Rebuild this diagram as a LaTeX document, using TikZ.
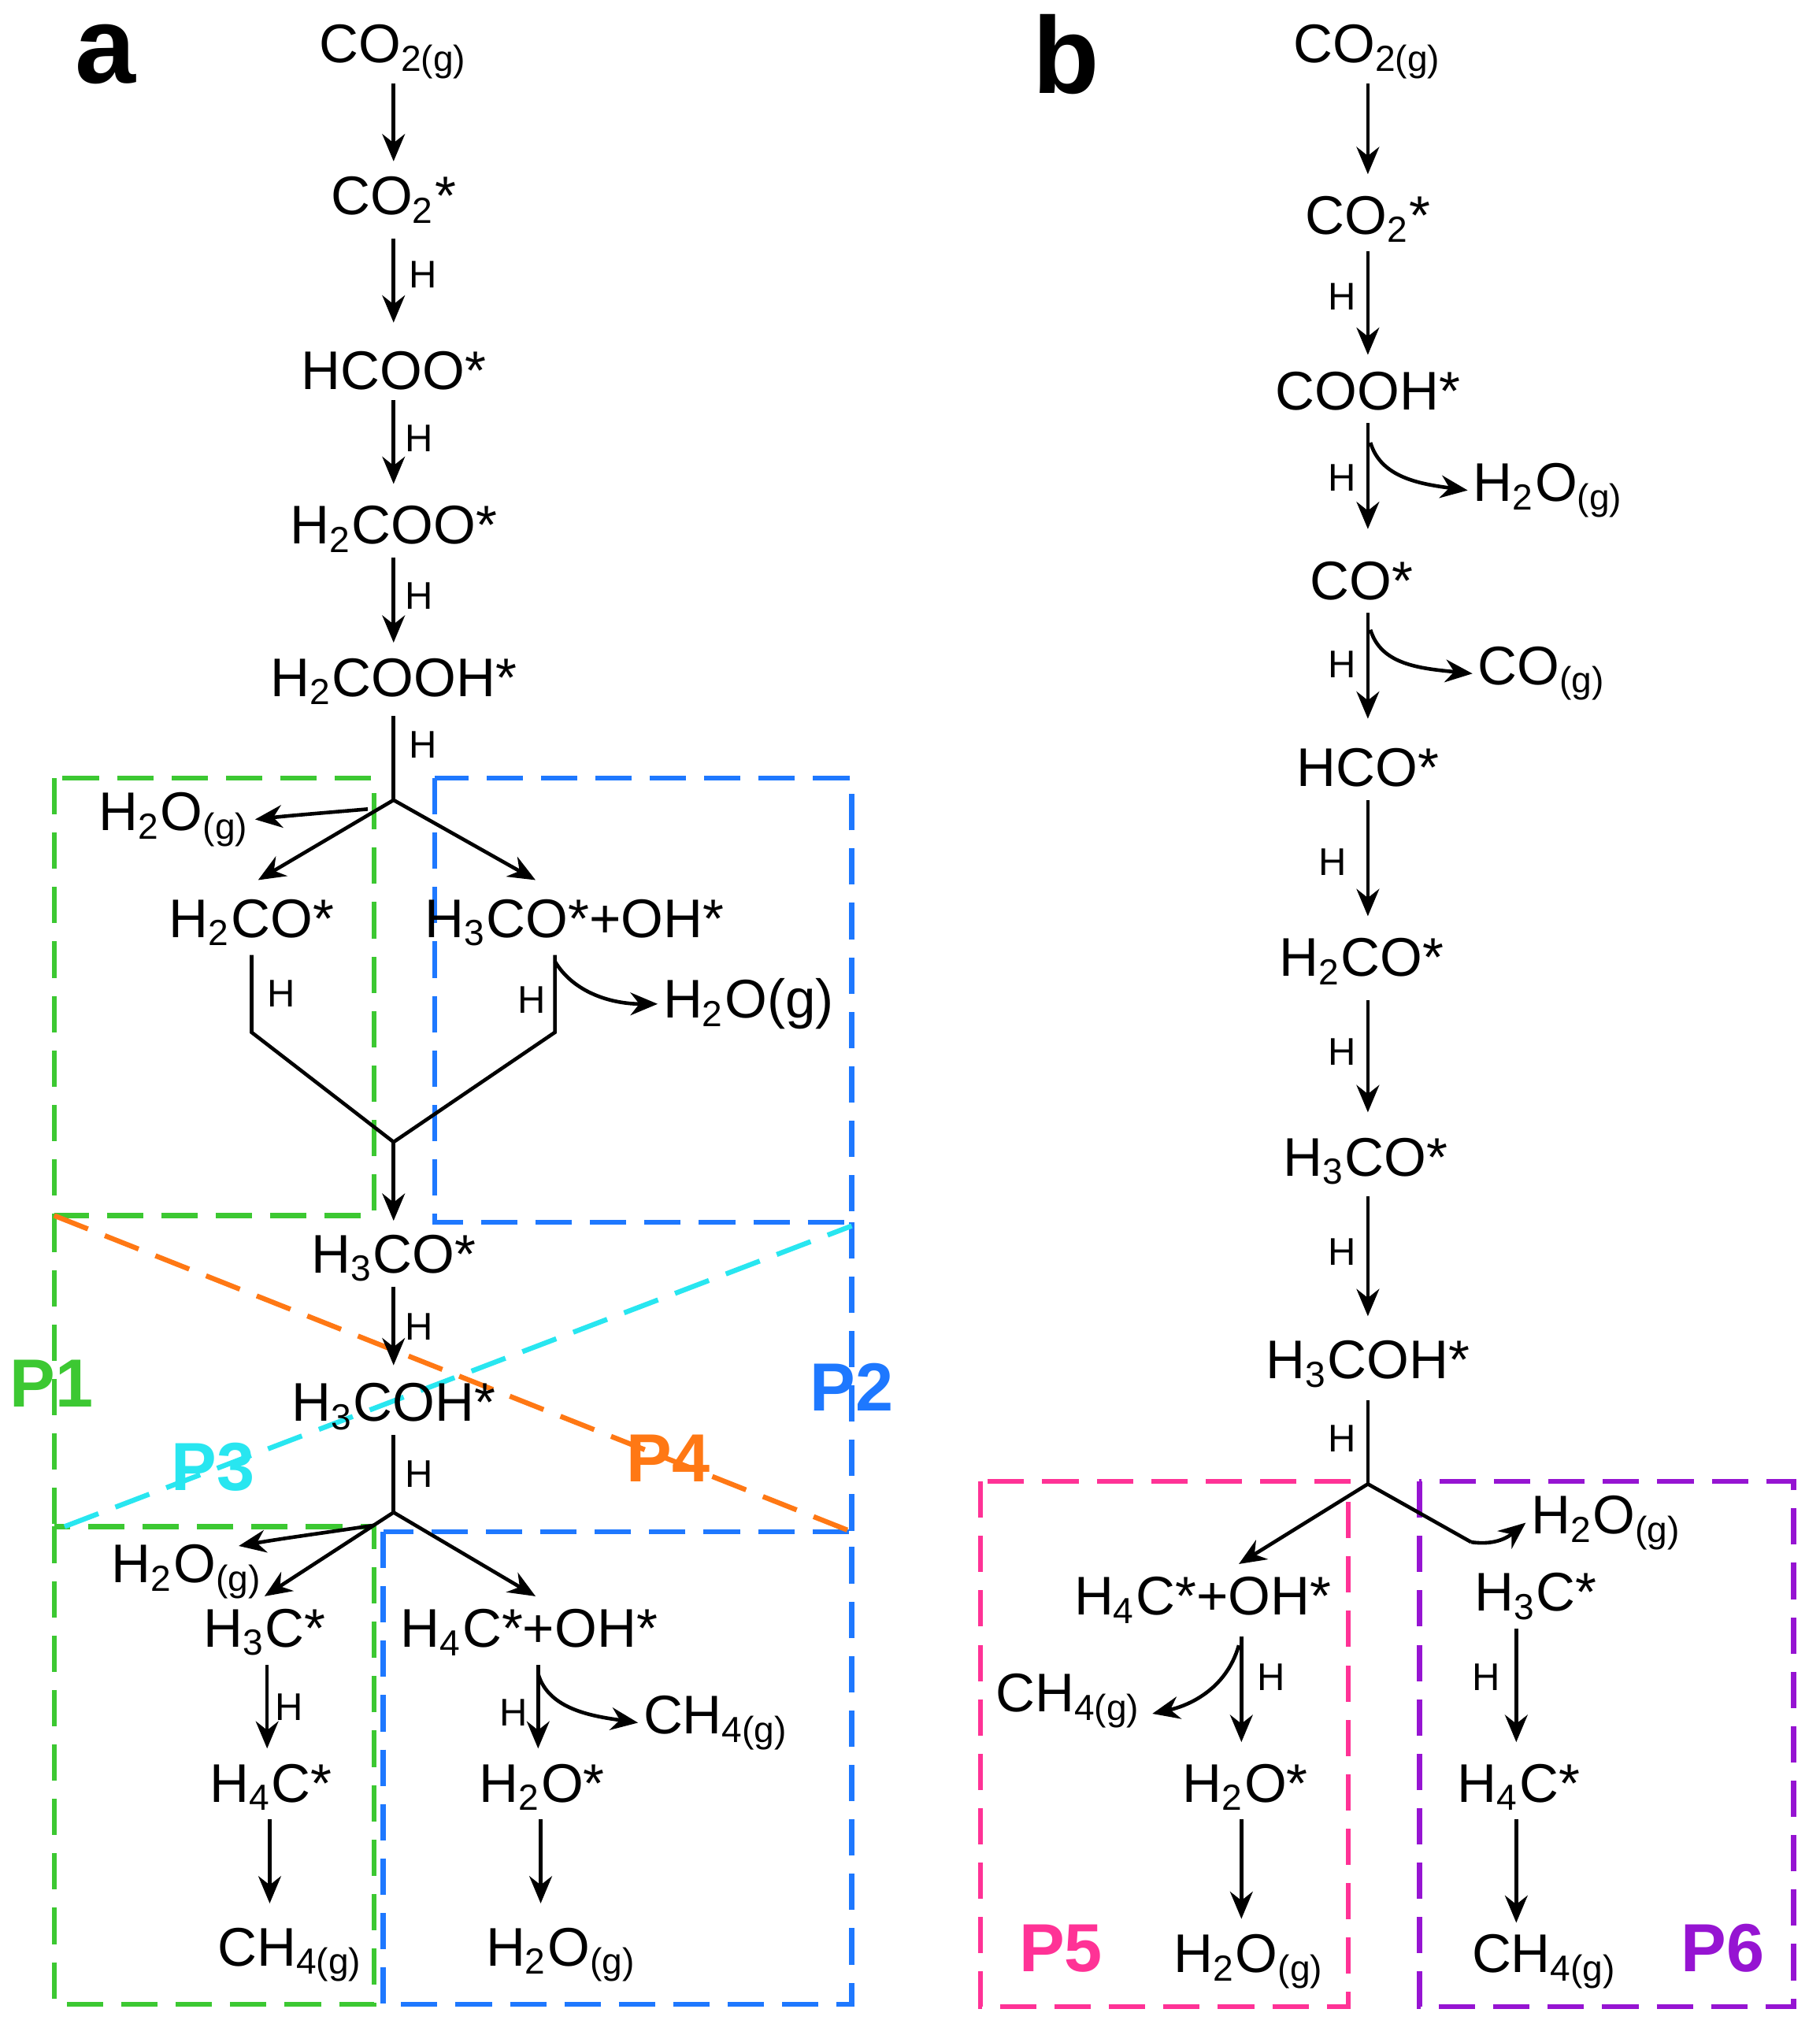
\documentclass[tikz,border=0pt]{standalone}
\usepackage{fontspec}
\setmainfont{Liberation Sans}
\usetikzlibrary{arrows.meta}
\newcommand{\sbs}[1]{\textsubscript{#1}}
\begin{document}
\begin{tikzpicture}[x=0.01cm,y=-0.01cm,
  every node/.style={font=\fontsize{12}{14}\selectfont,inner sep=1pt},
  arr/.style={-{Stealth[length=6pt,width=5pt]},line width=0.8pt},
  ln/.style={line width=0.8pt},
  hl/.style={font=\fontsize{8.5}{10}\selectfont},
  box/.style={dashed,dash pattern=on 8pt off 4pt,line width=1.1pt},
  lab/.style={font=\fontsize{15}{17}\bfseries\selectfont}]
\useasboundingbox (0,0) rectangle (1410,1577);
\definecolor{cg}{RGB}{60,200,50}\definecolor{cb}{RGB}{30,120,255}
\definecolor{cc}{RGB}{40,230,240}\definecolor{co}{RGB}{255,120,20}
\definecolor{cp}{RGB}{255,50,150}\definecolor{cv}{RGB}{150,20,210}
% boxes a
\draw[box,cg] (42,603) rectangle (290,942);
\draw[box,cg] (42,1183) rectangle (290,1553);
\draw[box,cg] (42,942) -- (42,1183);
\draw[box,cb] (337,603) rectangle (660,947);
\draw[box,cb] (297,1187) rectangle (660,1553);
\draw[box,cb] (660,947) -- (660,1187);
\draw[box,co] (42,942) -- (660,1187);
\draw[box,cc] (50,1183) -- (660,950);
\node[lab,cg] (p1) at (40,1072) {P1};
\node[lab,cb] (p2) at (660,1075) {P2};
\node[lab,cc] (p3) at (165,1137) {P3};
\node[lab,co] (p4) at (518,1130) {P4};
\draw[box,cp] (760,1148) rectangle (1045,1555);
\draw[box,cv] (1100,1148) rectangle (1390,1555);
\node[lab,cp] (p5) at (822,1510) {P5};
\node[lab,cv] (p6) at (1335,1510) {P6};
\node[font=\fontsize{24}{26}\bfseries\selectfont] (la) at (82,42) {a};
\node[font=\fontsize{24}{26}\bfseries\selectfont] (lb) at (826,42) {b};
% panel a
\node (a1) at (305,40) {CO\sbs{2(g)}};
\node (a2) at (305,155) {CO\sbs{2}*};
\node (a3) at (305,287) {HCOO*};
\node (a4) at (305,410) {H\sbs{2}COO*};
\node (a5) at (305,528) {H\sbs{2}COOH*};
\draw[arr] (305,65) -- (305,125);
\draw[arr] (305,185) -- (305,250); \node[hl] (h1) at (328,213) {H};
\draw[arr] (305,310) -- (305,375); \node[hl] (h2) at (325,340) {H};
\draw[arr] (305,432) -- (305,498); \node[hl] (h3) at (325,462) {H};
\coordinate (b1) at (305,620);
\draw[ln] (305,555) -- (b1); \node[hl] (h4) at (328,577) {H};
\node (aw1) at (135,635) {H\sbs{2}O\sbs{(g)}};
\node (a6) at (195,715) {H\sbs{2}CO*};
\node (a7) at (445,715) {H\sbs{3}CO*+OH*};
\draw[arr] (b1) -- (200,682);
\draw[arr] (b1) -- (415,682);
\draw[arr] (285,627) .. controls (250,630) and (225,632) .. (aw1.east);
\coordinate (j1) at (305,885);
\draw[ln] (195,740) -- (195,800) -- (j1) -- (430,800) -- (430,740);
\node[hl] (h5) at (218,770) {H}; \node[hl] (h6) at (412,775) {H};
\node (aw2) at (580,778) {H\sbs{2}O(g)};
\draw[arr] (430,745) .. controls (445,770) and (475,778) .. (aw2.west);
\node (a8) at (305,975) {H\sbs{3}CO*};
\node (a9) at (305,1090) {H\sbs{3}COH*};
\draw[arr] (j1) -- (305,946);
\draw[arr] (305,997) -- (305,1058); \node[hl] (h7) at (325,1028) {H};
\coordinate (b2) at (305,1172);
\draw[ln] (305,1112) -- (b2); \node[hl] (h8) at (325,1142) {H};
\node (aw3) at (145,1218) {H\sbs{2}O\sbs{(g)}};
\node (a10) at (205,1265) {H\sbs{3}C*};
\node (a11) at (410,1265) {H\sbs{4}C*+OH*};
\draw[arr] (b2) -- (205,1237);
\draw[arr] (b2) -- (415,1237);
\draw[arr] (290,1182) .. controls (250,1188) and (220,1192) .. (185,1198);
\node (a12) at (210,1385) {H\sbs{4}C*};
\node (a13) at (225,1515) {CH\sbs{4(g)}};
\draw[arr] (207,1290) -- (207,1355); \node[hl] (h9) at (224,1323) {H};
\draw[arr] (209,1410) -- (209,1475);
\node (a14) at (420,1385) {H\sbs{2}O*};
\node (a15) at (435,1515) {H\sbs{2}O\sbs{(g)}};
\node (aw4) at (555,1335) {CH\sbs{4(g)}};
\draw[arr] (417,1290) -- (417,1355); \node[hl] (h10) at (398,1327) {H};
\draw[arr] (417,1297) .. controls (425,1325) and (460,1330) .. (aw4.west);
\draw[arr] (419,1410) -- (419,1475);
% panel b
\node (b01) at (1060,40) {CO\sbs{2(g)}};
\node (b02) at (1060,170) {CO\sbs{2}*};
\node (b03) at (1060,303) {COOH*};
\node (b04) at (1055,450) {CO*};
\node (b05) at (1060,595) {HCO*};
\node (b06) at (1055,745) {H\sbs{2}CO*};
\node (b07) at (1058,900) {H\sbs{3}CO*};
\node (b08) at (1060,1057) {H\sbs{3}COH*};
\draw[arr] (1060,65) -- (1060,135);
\draw[arr] (1060,195) -- (1060,275); \node[hl] (h11) at (1040,230) {H};
\draw[arr] (1060,328) -- (1060,410); \node[hl] (h12) at (1040,370) {H};
\node (bw1) at (1200,380) {H\sbs{2}O\sbs{(g)}};
\draw[arr] (1062,343) .. controls (1070,370) and (1100,375) .. (bw1.west);
\draw[arr] (1060,475) -- (1060,557); \node[hl] (h13) at (1040,515) {H};
\node (bw2) at (1195,522) {CO\sbs{(g)}};
\draw[arr] (1062,488) .. controls (1070,515) and (1100,518) .. (bw2.west);
\draw[arr] (1060,620) -- (1060,710); \node[hl] (h14) at (1033,668) {H};
\draw[arr] (1060,775) -- (1060,862); \node[hl] (h15) at (1040,815) {H};
\draw[arr] (1060,927) -- (1060,1020); \node[hl] (h16) at (1040,970) {H};
\coordinate (b3) at (1060,1150);
\draw[ln] (1060,1085) -- (b3); \node[hl] (h17) at (1040,1115) {H};
\node (b09) at (932,1240) {H\sbs{4}C*+OH*};
\node (b10) at (1190,1237) {H\sbs{3}C*};
\node (bw3) at (1245,1180) {H\sbs{2}O\sbs{(g)}};
\draw[arr] (b3) -- (960,1212);
\draw[ln] (b3) -- (1140,1195);
\draw[arr] (1140,1195) .. controls (1160,1198) and (1170,1190) .. (bw3.west);
\node (bw4) at (828,1318) {CH\sbs{4(g)}};
\node (b11) at (965,1385) {H\sbs{2}O*};
\node (b12) at (968,1520) {H\sbs{2}O\sbs{(g)}};
\draw[arr] (962,1268) -- (962,1350); \node[hl] (h18) at (985,1300) {H};
\draw[arr] (960,1275) .. controls (950,1310) and (920,1322) .. (893,1328);
\draw[arr] (962,1410) -- (962,1487);
\node (b13) at (1177,1385) {H\sbs{4}C*};
\node (b14) at (1197,1520) {CH\sbs{4(g)}};
\draw[arr] (1175,1262) -- (1175,1350); \node[hl] (h19) at (1152,1300) {H};
\draw[arr] (1175,1410) -- (1175,1490);
\end{tikzpicture}
\end{document}
